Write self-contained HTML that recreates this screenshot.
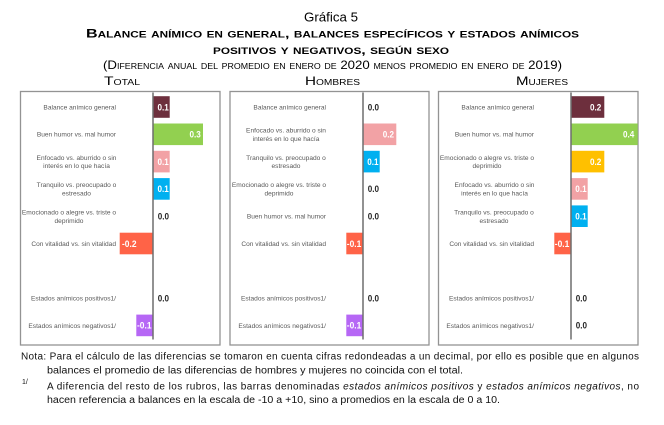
<!DOCTYPE html>
<html>
<head>
<meta charset="utf-8">
<style>
html,body{margin:0;padding:0;background:#fff;}
svg{display:block;}
text{font-family:"Liberation Sans",Arial,sans-serif;}
.sc{font-variant:small-caps;}
.lb{font-size:6.6px;fill:#595959;}
.v{font-size:9px;font-weight:bold;}
.w{fill:#fff;}
.z{fill:#262626;}
.fn{font-size:10px;fill:#111;}
</style>
</head>
<body>
<svg width="664" height="425" viewBox="0 0 664 425" xmlns="http://www.w3.org/2000/svg">
<rect width="664" height="425" fill="#fff"/>

<!-- Titles -->
<text x="331" y="21.5" font-size="13.3" text-anchor="middle" fill="#000">Gráfica 5</text>
<text class="sc" x="86" y="37.5" font-size="12.3" font-weight="bold" textLength="493" lengthAdjust="spacingAndGlyphs" fill="#000">Balance anímico en general, balances específicos y estados anímicos</text>
<text class="sc" x="213" y="54" font-size="12.3" font-weight="bold" textLength="236" lengthAdjust="spacingAndGlyphs" fill="#000">positivos y negativos, según sexo</text>
<text class="sc" x="103" y="69" font-size="12" textLength="459" lengthAdjust="spacingAndGlyphs" fill="#000">(Diferencia anual del promedio en enero de 2020 menos promedio en enero de 2019)</text>
<text class="sc" x="104" y="85" font-size="12" textLength="36" lengthAdjust="spacingAndGlyphs" fill="#000">Total</text>
<text class="sc" x="305" y="85" font-size="12" textLength="55" lengthAdjust="spacingAndGlyphs" fill="#000">Hombres</text>
<text class="sc" x="516" y="85" font-size="12" textLength="52" lengthAdjust="spacingAndGlyphs" fill="#000">Mujeres</text>

<!-- Panel boxes -->
<rect x="20.5" y="91.5" width="199.5" height="253.5" fill="#fff" stroke="#939393" stroke-width="1.3"/>
<rect x="230" y="91.5" width="199" height="253.5" fill="#fff" stroke="#939393" stroke-width="1.3"/>
<rect x="438.5" y="91.5" width="199.5" height="253.5" fill="#fff" stroke="#939393" stroke-width="1.3"/>

<!-- ================= PANEL 1 (TOTAL) ================= -->
<g>
<rect x="153" y="96.2" width="16.7" height="21.6" fill="#6D2F3D"/>
<rect x="153" y="123.5" width="50" height="21.6" fill="#92D050"/>
<rect x="153" y="150.8" width="16.7" height="21.6" fill="#F2A2A5"/>
<rect x="153" y="178.1" width="16.7" height="21.6" fill="#00B0F0"/>
<rect x="119.7" y="232.7" width="33.3" height="21.6" fill="#FF6347"/>
<rect x="136.3" y="314.6" width="16.7" height="21.6" fill="#B667F5"/>
<line x1="153" y1="92.5" x2="153" y2="339.5" stroke="#6e6e6e" stroke-width="1.5"/>
<text class="lb" x="116" y="109.4" text-anchor="end">Balance anímico general</text>
<text class="lb" x="116" y="136.7" text-anchor="end">Buen humor vs. mal humor</text>
<text class="lb" x="76.5" y="159.8" text-anchor="middle">Enfocado vs. aburrido o sin</text>
<text class="lb" x="76.5" y="168.2" text-anchor="middle">interés en lo que hacía</text>
<text class="lb" x="76.5" y="187.1" text-anchor="middle">Tranquilo vs. preocupado o</text>
<text class="lb" x="76.5" y="195.5" text-anchor="middle">estresado</text>
<text class="lb" x="69" y="214.4" text-anchor="middle">Emocionado o alegre vs. triste o</text>
<text class="lb" x="69" y="222.8" text-anchor="middle">deprimido</text>
<text class="lb" x="116" y="245.9" text-anchor="end">Con vitalidad vs. sin vitalidad</text>
<text class="lb" x="116" y="300.5" text-anchor="end">Estados anímicos positivos1/</text>
<text class="lb" x="116" y="327.8" text-anchor="end">Estados anímicos negativos1/</text>
<text class="v w" x="157.5" y="110.3" textLength="11.3" lengthAdjust="spacingAndGlyphs">0.1</text>
<text class="v w" x="189.5" y="137.6" textLength="11.3" lengthAdjust="spacingAndGlyphs">0.3</text>
<text class="v w" x="157.5" y="164.9" textLength="11.3" lengthAdjust="spacingAndGlyphs">0.1</text>
<text class="v w" x="157.5" y="192.2" textLength="11.3" lengthAdjust="spacingAndGlyphs">0.1</text>
<text class="v z" x="157.7" y="219.5" textLength="11.3" lengthAdjust="spacingAndGlyphs">0.0</text>
<text class="v w" x="122" y="246.8" textLength="14.5" lengthAdjust="spacingAndGlyphs">-0.2</text>
<text class="v z" x="157.7" y="301.4" textLength="11.3" lengthAdjust="spacingAndGlyphs">0.0</text>
<text class="v w" x="137" y="328.7" textLength="14.5" lengthAdjust="spacingAndGlyphs">-0.1</text>
</g>

<!-- ================= PANEL 2 (HOMBRES) ================= -->
<g>
<rect x="363" y="123.5" width="33.3" height="21.6" fill="#F2A2A5"/>
<rect x="363" y="150.8" width="16.7" height="21.6" fill="#00B0F0"/>
<rect x="346.3" y="232.7" width="16.7" height="21.6" fill="#FF6347"/>
<rect x="346.3" y="314.6" width="16.7" height="21.6" fill="#B667F5"/>
<line x1="363" y1="92.5" x2="363" y2="339.5" stroke="#6e6e6e" stroke-width="1.5"/>
<text class="lb" x="326" y="109.4" text-anchor="end">Balance anímico general</text>
<text class="lb" x="286" y="132.5" text-anchor="middle">Enfocado vs. aburrido o sin</text>
<text class="lb" x="286" y="140.9" text-anchor="middle">interés en lo que hacía</text>
<text class="lb" x="286" y="159.8" text-anchor="middle">Tranquilo vs. preocupado o</text>
<text class="lb" x="286" y="168.2" text-anchor="middle">estresado</text>
<text class="lb" x="279" y="187.1" text-anchor="middle">Emocionado o alegre vs. triste o</text>
<text class="lb" x="279" y="195.5" text-anchor="middle">deprimido</text>
<text class="lb" x="326" y="218.6" text-anchor="end">Buen humor vs. mal humor</text>
<text class="lb" x="326" y="245.9" text-anchor="end">Con vitalidad vs. sin vitalidad</text>
<text class="lb" x="326" y="300.5" text-anchor="end">Estados anímicos positivos1/</text>
<text class="lb" x="326" y="327.8" text-anchor="end">Estados anímicos negativos1/</text>
<text class="v z" x="367.7" y="110.3" textLength="11.3" lengthAdjust="spacingAndGlyphs">0.0</text>
<text class="v w" x="382.7" y="137.6" textLength="11.3" lengthAdjust="spacingAndGlyphs">0.2</text>
<text class="v w" x="367.2" y="164.9" textLength="11.3" lengthAdjust="spacingAndGlyphs">0.1</text>
<text class="v z" x="367.7" y="192.2" textLength="11.3" lengthAdjust="spacingAndGlyphs">0.0</text>
<text class="v z" x="367.7" y="219.5" textLength="11.3" lengthAdjust="spacingAndGlyphs">0.0</text>
<text class="v w" x="346.8" y="246.8" textLength="14.5" lengthAdjust="spacingAndGlyphs">-0.1</text>
<text class="v z" x="367.7" y="301.4" textLength="11.3" lengthAdjust="spacingAndGlyphs">0.0</text>
<text class="v w" x="346.8" y="328.7" textLength="14.5" lengthAdjust="spacingAndGlyphs">-0.1</text>
</g>

<!-- ================= PANEL 3 (MUJERES) ================= -->
<g>
<rect x="571" y="96.2" width="33.3" height="21.6" fill="#6D2F3D"/>
<rect x="571" y="123.5" width="66.7" height="21.6" fill="#92D050"/>
<rect x="571" y="150.8" width="33.3" height="21.6" fill="#FFC000"/>
<rect x="571" y="178.1" width="16.7" height="21.6" fill="#F2A2A5"/>
<rect x="571" y="205.4" width="16.7" height="21.6" fill="#00B0F0"/>
<rect x="554.3" y="232.7" width="16.7" height="21.6" fill="#FF6347"/>
<line x1="571" y1="92.5" x2="571" y2="339.5" stroke="#6e6e6e" stroke-width="1.5"/>
<text class="lb" x="534" y="109.4" text-anchor="end">Balance anímico general</text>
<text class="lb" x="534" y="136.7" text-anchor="end">Buen humor vs. mal humor</text>
<text class="lb" x="487" y="159.8" text-anchor="middle">Emocionado o alegre vs. triste o</text>
<text class="lb" x="487" y="168.2" text-anchor="middle">deprimido</text>
<text class="lb" x="494.5" y="187.1" text-anchor="middle">Enfocado vs. aburrido o sin</text>
<text class="lb" x="494.5" y="195.5" text-anchor="middle">interés en lo que hacía</text>
<text class="lb" x="494" y="214.4" text-anchor="middle">Tranquilo vs. preocupado o</text>
<text class="lb" x="494" y="222.8" text-anchor="middle">estresado</text>
<text class="lb" x="534" y="245.9" text-anchor="end">Con vitalidad vs. sin vitalidad</text>
<text class="lb" x="534" y="300.5" text-anchor="end">Estados anímicos positivos1/</text>
<text class="lb" x="534" y="327.8" text-anchor="end">Estados anímicos negativos1/</text>
<text class="v w" x="590" y="110.3" textLength="11.3" lengthAdjust="spacingAndGlyphs">0.2</text>
<text class="v w" x="623" y="137.6" textLength="11.3" lengthAdjust="spacingAndGlyphs">0.4</text>
<text class="v w" x="590" y="164.9" textLength="11.3" lengthAdjust="spacingAndGlyphs">0.2</text>
<text class="v w" x="575.3" y="192.2" textLength="11.3" lengthAdjust="spacingAndGlyphs">0.1</text>
<text class="v w" x="575.3" y="219.5" textLength="11.3" lengthAdjust="spacingAndGlyphs">0.1</text>
<text class="v w" x="554.8" y="246.8" textLength="14.5" lengthAdjust="spacingAndGlyphs">-0.1</text>
<text class="v z" x="575.7" y="301.4" textLength="11.3" lengthAdjust="spacingAndGlyphs">0.0</text>
<text class="v z" x="575.7" y="328.7" textLength="11.3" lengthAdjust="spacingAndGlyphs">0.0</text>
</g>

<!-- Footnotes -->
<text class="fn" x="21" y="359.5" textLength="618" lengthAdjust="spacing">Nota: Para el cálculo de las diferencias se tomaron en cuenta cifras redondeadas a un decimal, por ello es posible que en algunos</text>
<text class="fn" x="47" y="373.5" textLength="416" lengthAdjust="spacingAndGlyphs">balances el promedio de las diferencias de hombres y mujeres no coincida con el total.</text>
<text x="22" y="384" font-size="7" fill="#111">1/</text>
<text class="fn" x="47" y="389.5" textLength="592" lengthAdjust="spacing">A diferencia del resto de los rubros, las barras denominadas <tspan font-style="italic">estados anímicos positivos</tspan> y <tspan font-style="italic">estados anímicos negativos</tspan>, no</text>
<text class="fn" x="47" y="403" textLength="453" lengthAdjust="spacingAndGlyphs">hacen referencia a balances en la escala de -10 a +10, sino a promedios en la escala de 0 a 10.</text>
</svg>
</body>
</html>
